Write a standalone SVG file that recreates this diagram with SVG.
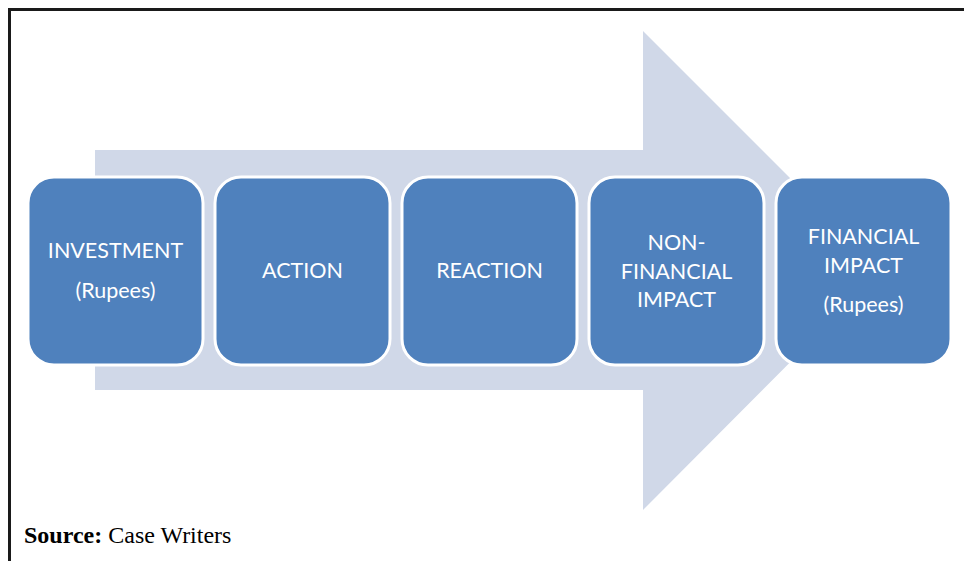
<svg xmlns="http://www.w3.org/2000/svg" width="964" height="561" viewBox="0 0 964 561">
  <style>
    .frame { fill: none; stroke: #1a1a1a; stroke-width: 3; }
    .arrow { fill: #D0D8E8; }
    .box { fill: #4F81BD; stroke: #FFFFFF; stroke-width: 3; }
    .lbl { font-family: Lato, "Liberation Sans", sans-serif; font-size: 21.5px; fill: #FFFFFF; text-anchor: middle; }
    .src { font-family: "Liberation Serif", serif; font-size: 24px; fill: #000000; }
  </style>

  <rect width="964" height="561" fill="#FFFFFF"/>

  <!-- page frame (top and left edges visible) -->
  <path class="frame" d="M9.5 561 V9.5 H964"/>

  <!-- background block arrow -->
  <g id="flow-arrow">
    <polygon class="arrow" points="95,150 643,150 643,31 882,270 643,510 643,390 95,390"/>
  </g>

  <!-- process steps -->
  <g id="step-investment">
    <rect class="box" x="28" y="177" width="175" height="188" rx="26"/>
    <text class="lbl" x="115.5" y="258">INVESTMENT</text>
    <text class="lbl" x="115.5" y="298">(Rupees)</text>
  </g>

  <g id="step-action">
    <rect class="box" x="215" y="177" width="175" height="188" rx="26"/>
    <text class="lbl" x="302.5" y="278">ACTION</text>
  </g>

  <g id="step-reaction">
    <rect class="box" x="402" y="177" width="175" height="188" rx="26"/>
    <text class="lbl" x="489.5" y="278">REACTION</text>
  </g>

  <g id="step-nonfinancial">
    <rect class="box" x="589" y="177" width="175" height="188" rx="26"/>
    <text class="lbl" x="676.5" y="250">NON-</text>
    <text class="lbl" x="676.5" y="279">FINANCIAL</text>
    <text class="lbl" x="676.5" y="307">IMPACT</text>
  </g>

  <g id="step-financial">
    <rect class="box" x="776" y="177" width="175" height="188" rx="26"/>
    <text class="lbl" x="863.5" y="244">FINANCIAL</text>
    <text class="lbl" x="863.5" y="273">IMPACT</text>
    <text class="lbl" x="863.5" y="312">(Rupees)</text>
  </g>

  <g id="connectors"></g>

  <text class="src" x="24" y="543"><tspan font-weight="bold">Source:</tspan> Case Writers</text>
</svg>
